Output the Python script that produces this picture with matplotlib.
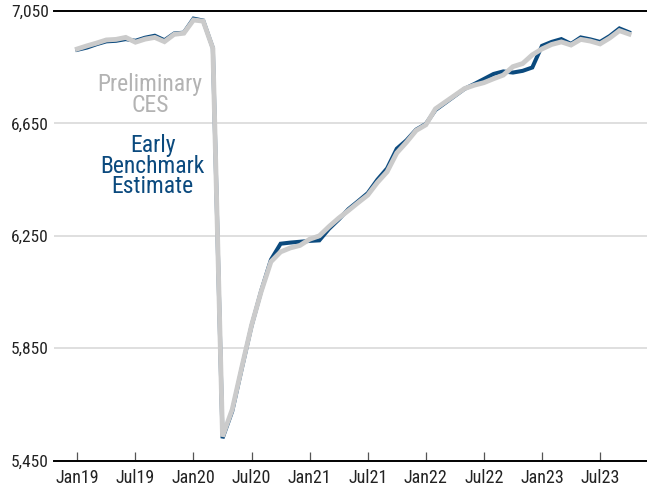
import matplotlib
matplotlib.use("Agg")
import matplotlib.pyplot as plt
from matplotlib import font_manager

# ---------------- data ----------------
tick_labels = ["Jan19", "Jul19", "Jan20", "Jul20", "Jan21", "Jul21",
               "Jan22", "Jul22", "Jan23", "Jul23"]
tick_months = [0, 6, 12, 18, 24, 30, 36, 42, 48, 54]

# monthly, Jan 2019 .. Oct 2023 (thousands)
preliminary_ces = [
    6915, 6926, 6936, 6947, 6949, 6956, 6939, 6950, 6956, 6941, 6967, 6971,
    7018, 7014, 6917, 5536, 5632, 5784, 5932, 6053, 6158, 6193, 6207, 6216,
    6238, 6250, 6283, 6313, 6340, 6368, 6395, 6440, 6478, 6545, 6583, 6625,
    6645, 6702, 6726, 6750, 6774, 6786, 6795, 6809, 6822, 6852, 6863, 6894,
    6915, 6931, 6940, 6929, 6949, 6943, 6933, 6954, 6980, 6968,
]
early_benchmark = [
    6912, 6920, 6932, 6942, 6944, 6950, 6944, 6955, 6962, 6946, 6970, 6973,
    7023, 7016, 6918, 5530, 5626, 5780, 5930, 6055, 6165, 6222, 6226, 6229,
    6232, 6234, 6275, 6308, 6345, 6373, 6402, 6450, 6490, 6560, 6590, 6628,
    6648, 6698, 6723, 6748, 6773, 6790, 6808, 6826, 6835, 6831, 6837, 6849,
    6926, 6940, 6950, 6933, 6956, 6949, 6940, 6961, 6988, 6974,
]
months = list(range(len(preliminary_ces)))
y_ticks = [5450, 5850, 6250, 6650, 7050]

# ---------------- style ----------------
available = {f.name for f in font_manager.fontManager.ttflist}
family = None
for cand in ["Roboto Condensed", "Liberation Sans Narrow", "Roboto", "DejaVu Sans"]:
    if cand in available:
        family = cand
        break
plt.rcParams["font.family"] = [family, "DejaVu Sans"]

BLUE = "#0b4a7e"
GRAY_LINE = "#cbcbcb"
GRAY_TEXT = "#b3b3b3"

fig = plt.figure(figsize=(6.47, 4.93), dpi=100)
ax = fig.add_axes([54.3 / 647, 1 - 460.7 / 493, 1 - 54.3 / 647, (460.7 - 11) / 493])

ax.plot(months, early_benchmark, color=BLUE, lw=2.9, solid_joinstyle="miter", zorder=3)
ax.plot(months, preliminary_ces, color=GRAY_LINE, lw=3.5, solid_joinstyle="miter", zorder=4)

ax.set_ylim(5450, 7050)
ax.set_xlim(-2.38, 58.85)
ax.set_yticks(y_ticks)
ax.set_yticklabels([f"{v:,}" for v in y_ticks])
ax.set_xticks(tick_months)
ax.set_xticklabels(tick_labels)

for s in ["left", "right"]:
    ax.spines[s].set_visible(False)
for s in ["top", "bottom"]:
    ax.spines[s].set_color("black")
    ax.spines[s].set_linewidth(1.4)

ax.yaxis.grid(True, color="#d9d9d9", lw=1.2)
ax.set_axisbelow(True)
ax.tick_params(axis="y", length=0, pad=4, labelsize=12.5, labelcolor="#222222")
ax.tick_params(axis="x", direction="in", length=6.5, width=0.9, color="#555555",
               pad=6, labelsize=13, labelcolor="#222222")

ax.text(0.1615, 0.813, "Preliminary\nCES", transform=ax.transAxes, ha="center",
        va="center", color=GRAY_TEXT, fontsize=17, linespacing=0.85)
ax.text(0.166, 0.655, "Early\nBenchmark\nEstimate", transform=ax.transAxes, ha="center",
        va="center", color=BLUE, fontsize=17, linespacing=0.85)

fig.savefig("out.png", dpi=100)
